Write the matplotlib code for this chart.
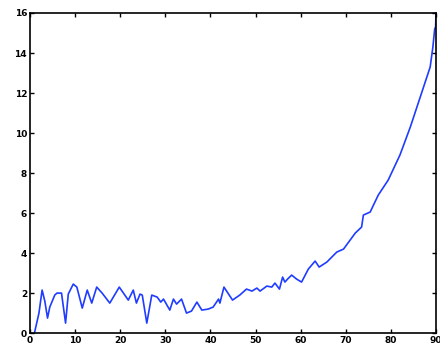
import matplotlib
matplotlib.use("Agg")
import matplotlib.pyplot as plt

x_vals = [1, 2, 2.7, 3.3, 3.9, 4.4, 5.5, 6, 7, 7.9, 8.5, 9.6, 10.4, 11.6, 12.7, 13.7, 14.8, 16, 17.7, 19.8,
          21.8, 22.9, 23.6, 24.4, 24.9, 25.9, 27, 28.2, 29, 29.6, 31, 31.8, 32.5, 33.6, 34.7, 35.8, 37, 38.1,
          39.5, 40.6, 41.8, 42.1, 43, 44.9, 46.5, 48, 49.2, 50.3, 51, 52.5, 53.6, 54.3, 55.3, 56, 56.5, 57.1,
          58, 59.1, 60.2, 61.7, 63.2, 64.1, 65.8, 68, 69.5, 72.1, 73.5, 73.9, 75.4, 77.2, 79.4, 82, 84.3,
          86.5, 88.7, 89.3, 89.7, 89.9, 90]
y_vals = [0, 1.0, 2.15, 1.6, 0.75, 1.3, 1.9, 2.0, 2.0, 0.5, 1.95, 2.45, 2.3, 1.25, 2.15, 1.5, 2.3, 2.0, 1.5, 2.3,
          1.65, 2.15, 1.5, 1.95, 1.9, 0.5, 1.9, 1.8, 1.55, 1.7, 1.15, 1.7, 1.45, 1.7, 1.0, 1.1, 1.55, 1.15,
          1.2, 1.3, 1.7, 1.5, 2.3, 1.65, 1.9, 2.2, 2.1, 2.25, 2.1, 2.35, 2.3, 2.5, 2.2, 2.8, 2.55, 2.7,
          2.9, 2.7, 2.55, 3.2, 3.6, 3.3, 3.55, 4.05, 4.2, 5.0, 5.3, 5.9, 6.05, 6.9, 7.65, 8.9, 10.3,
          11.8, 13.3, 14.3, 15.2, 15.3, 16.0]
x_ticks = [0, 10, 20, 30, 40, 50, 60, 70, 80, 90]
y_ticks = [0, 2, 4, 6, 8, 10, 12, 14, 16]

fig = plt.figure(figsize=(4.4, 3.51), dpi=100)
ax = fig.add_axes([0.068, 0.051, 0.923, 0.912])
ax.plot(x_vals, y_vals, color='#1f3cff', linewidth=1.2)
ax.set_xlim(0, 90)
ax.set_ylim(0, 16)
ax.set_xticks(x_ticks)
ax.set_yticks(y_ticks)
ax.tick_params(direction='in', top=True, right=True, length=3, width=1, labelsize=6.5, pad=2)
for lab in ax.get_xticklabels() + ax.get_yticklabels():
    lab.set_fontweight('bold')
for s in ax.spines.values():
    s.set_linewidth(1.2)
fig.savefig('out.png', dpi=100)
